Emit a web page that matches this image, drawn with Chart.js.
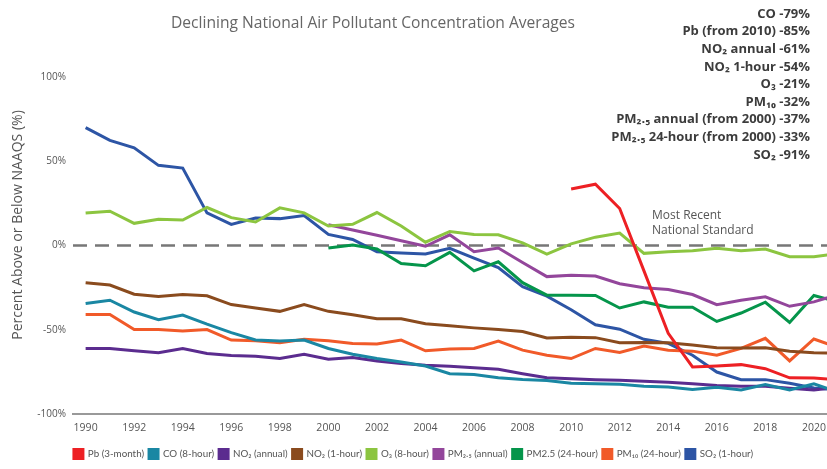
<!DOCTYPE html>
<html>
<head>
<meta charset="utf-8">
<script src="https://cdn.jsdelivr.net/npm/chart.js@4.4.0/dist/chart.umd.min.js"></script>
<style>
  html, body { margin: 0; padding: 0; background: #fff; }
</style>
</head>
<body>
<canvas id="myChart" width="827" height="469"></canvas>
<script>
//------------- data (percent above / below NAAQS) ---------------------  //
const years = [1990, 1991, 1992, 1993, 1994, 1995, 1996, 1997, 1998, 1999,
               2000, 2001, 2002, 2003, 2004, 2005, 2006, 2007, 2008, 2009,
               2010, 2011, 2012, 2013, 2014, 2015, 2016, 2017, 2018, 2019,
               2020, 2021];

const pb = [null, null, null, null, null, null, null, null, null, null,
            null, null, null, null, null, null, null, null, null, null,
            33.6, 36.4, 22, -15, -52, -72, -71.4, -70.6, -73, -78.4, -78.6, -79.5];
const co = [-34.4, -32.4, -39.4, -44, -41.2, -46.6, -51.6, -56, -56.6, -56,
            -61, -64.4, -67, -69, -71.4, -76, -76.4, -78.4, -79.4, -80,
            -81.6, -82, -82.2, -83.4, -83.8, -85.4, -84, -85.6, -82.4, -85.6, -82, -87];
const no2Annual = [-61, -61, -62.4, -63.6, -61, -64, -65.2, -65.6, -67, -64.4,
                   -67.4, -66.4, -68.4, -70, -71, -71.6, -72.4, -73.4, -76, -78.4,
                   -79, -79.5, -79.8, -80.4, -81, -82, -83, -83.4, -83.4, -84.6, -85.6, -84];
const no2Hour = [-22, -23.4, -28.8, -30.2, -29, -29.8, -35, -37, -39, -35,
                 -39, -41, -43.4, -43.4, -46.4, -47.6, -48.8, -49.8, -51, -54.8,
                 -54.4, -54.6, -57.6, -57.4, -57.6, -59, -60.6, -60.8, -60.6, -62.6, -63.6, -63.8];
const o3 = [19.4, 20.4, 13.2, 15.6, 15.2, 22.6, 16.6, 14, 22.4, 19.4,
            11.6, 12.6, 19.6, 11.6, 2, 8.4, 6.6, 6.4, 1.6, -5,
            1, 5, 7.4, -4.6, -3.6, -3, -1.6, -3, -2, -6.6, -6.6, -4.7];
const pm25Annual = [null, null, null, null, null, null, null, null, null, null,
                    12.4, 9.2, 6.1, 2.9, -0.4, 6.4, -3.6, -1.4, -10, -18.4,
                    -17.6, -18, -22.6, -25, -26, -29, -35, -32.4, -30.4, -36, -33.4, -29];
const pm25Day = [null, null, null, null, null, null, null, null, null, null,
                 -1.4, 0.4, -2, -10.6, -12, -4, -15, -9.6, -22, -29.4,
                 -29.4, -29.6, -37, -33.4, -36.6, -36.6, -45, -40, -33.6, -45.6, -29.6, -33.5];
const pm10 = [-40.8, -40.8, -49.8, -49.8, -50.6, -49.8, -56, -56.4, -57.6, -55.6,
              -56.4, -58, -58.4, -56, -62.4, -61.4, -61, -56.6, -62, -65,
              -67, -61, -63.4, -59.6, -62, -62.6, -65, -61, -55, -68.4, -55.4, -60.5];
const so2 = [70, 62.4, 58, 47.6, 46, 19.4, 12.6, 16.4, 16, 17.8,
             6.6, 3.6, -3.6, -4.4, -5, -1.6, -7.4, -13, -24.4, -30,
             -38, -47, -49.6, -55.6, -58, -65, -75, -79.5, -79.5, -81.6, -84.5, -85.5];

const legendLabels = ['Pb (3-month)', 'CO (8-hour)', 'NO\u2082 (annual)', 'NO\u2082 (1-hour)',
                      'O\u2083 (8-hour)', 'PM\u2082.\u2085 (annual)', 'PM2.5 (24-hour)',
                      'PM\u2081\u2080 (24-hour)', 'SO\u2082 (1-hour)'];
const xTicks = [1990, 1992, 1994, 1996, 1998, 2000, 2002, 2004, 2006, 2008,
                2010, 2012, 2014, 2016, 2018, 2020];
const yTicks = [-100, -50, 0, 50, 100];
const summaryLines = ['CO -79%', 'Pb (from 2010) -85%', 'NO\u2082 annual -61%', 'NO\u2082 1-hour -54%',
                      'O\u2083 -21%', 'PM\u2081\u2080 -32%', 'PM\u2082.\u2085 annual (from 2000) -37%',
                      'PM\u2082.\u2085 24-hour (from 2000) -33%', 'SO\u2082 -91%'];

const series = [pb, co, no2Annual, no2Hour, o3, pm25Annual, pm25Day, pm10, so2];
const lineColors = ['#ed2024', '#1a87a3', '#5b2c8f', '#8a4b1e', '#8cc540',
                    '#93469b', '#05954b', '#f15a29', '#2d55a5'];

const FONT = '"Open Sans", "Noto Sans", sans-serif';
const NARROW = 'Lato, "Open Sans", sans-serif';

//------------- extra drawing: title, axis title, standard line, summary ---------------------  //
const extras = {
  id: 'extras',
  beforeDatasetsDraw(chart) {
    const c = chart.ctx;
    const area = chart.chartArea;
    const y0 = chart.scales.y.getPixelForValue(0);
    c.save();
    c.strokeStyle = '#777';
    c.lineWidth = 2.5;
    c.setLineDash([14, 8]);
    c.beginPath();
    c.moveTo(area.left, y0);
    c.lineTo(area.right, y0);
    c.stroke();
    c.restore();
  },
  afterDraw(chart) {
    const c = chart.ctx;
    c.save();
    c.fillStyle = '#666';
    c.font = '15.6px ' + FONT;
    c.textAlign = 'center';
    c.textBaseline = 'middle';
    c.fillText('Declining National Air Pollutant Concentration Averages', 373, 24);

    c.fillStyle = '#555';
    c.font = '14px ' + FONT;
    c.translate(18, 225);
    c.rotate(-Math.PI / 2);
    c.fillText('Percent Above or Below NAAQS (%)', 0, 0);
    c.restore();

    c.save();
    c.fillStyle = '#555';
    c.font = '12px ' + FONT;
    c.textAlign = 'left';
    c.textBaseline = 'middle';
    c.fillText('Most Recent', 652, 216);
    c.fillText('National Standard', 652, 231);

    c.fillStyle = '#3c3c3c';
    c.font = 'bold 13px ' + FONT;
    c.textAlign = 'right';
    summaryLines.forEach((t, i) => c.fillText(t, 810, 14 + i * 17.6));
    c.restore();
  }
};

const ctx = document.getElementById('myChart');

new Chart(ctx, {
  type: 'line',
  data: {
    datasets: series.map((vals, i) => ({
      label: legendLabels[i],
      data: years.map((yr, j) => ({ x: yr, y: vals[j] })),
      borderColor: lineColors[i],
      backgroundColor: lineColors[i],
      borderWidth: 3,
      pointRadius: 0,
      tension: 0
    }))
  },
  options: {
    responsive: false,
    animation: false,
    layout: { padding: { top: 77, left: 0, right: 0, bottom: 0 } },
    plugins: {
      title: { display: false },
      tooltip: { enabled: false },
      legend: {
        position: 'bottom',
        labels: {
          boxWidth: 9,
          boxHeight: 9,
          padding: 5,
          color: '#555',
          font: { family: NARROW, size: 9.8 }
        }
      }
    },
    scales: {
      x: {
        type: 'linear',
        min: 1989.48,
        max: 2020.54,
        afterBuildTicks: (scale) => { scale.ticks = xTicks.map(v => ({ value: v })); },
        afterFit: (scale) => { scale.height = 30; scale.paddingRight = 0; scale.paddingLeft = 0; },
        grid: { display: false, drawTicks: false },
        border: { display: true, color: '#999', width: 2 },
        ticks: {
          color: '#555',
          padding: 8,
          maxRotation: 0,
          autoSkip: false,
          font: { family: FONT, size: 10.5 },
          callback: (v) => String(v)
        }
      },
      y: {
        min: -100,
        max: 100,
        afterBuildTicks: (scale) => { scale.ticks = yTicks.map(v => ({ value: v })); },
        afterFit: (scale) => { scale.width = 73; },
        grid: { display: false, drawTicks: false },
        border: { display: false },
        ticks: {
          color: '#555',
          padding: 7,
          font: { family: FONT, size: 10 },
          callback: (v) => v + '%'
        }
      }
    }
  },
  plugins: [extras]
});
</script>
</body>
</html>
